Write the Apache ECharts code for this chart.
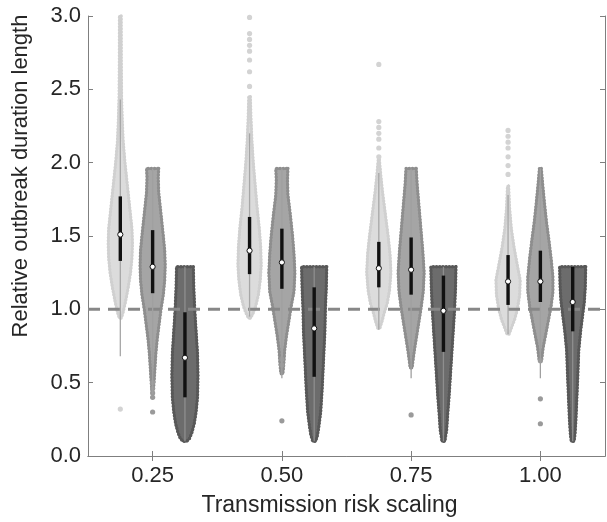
<!DOCTYPE html>
<html><head><meta charset="utf-8">
<script src="https://cdn.jsdelivr.net/npm/echarts@6/dist/echarts.min.js"></script>
<style>html,body{margin:0;padding:0;background:#fff}#c{width:607px;height:522px}</style>
</head><body><div id="c"></div>
<script>
// ---------- data ----------
const categories = ['0.25', '0.50', '0.75', '1.00'];
const yTickLabels = ['0.0', '0.5', '1.0', '1.5', '2.0', '2.5', '3.0'];
const referenceLevel = [1.0];

// violin outlines: [value, density half-width] from top to bottom, one list per category
const lightShape = [
  [[3.00,0.9],[2.70,1],[2.45,1.3],[2.30,2],[2.15,3],[2.00,5],[1.85,7.5],[1.70,10],[1.55,12.5],[1.45,13],[1.35,12.5],[1.25,11],[1.15,8.5],[1.05,5.5],[0.98,3],[0.94,1]],
  [[2.45,0.8],[2.30,1.5],[2.15,2.5],[2.00,4],[1.85,6],[1.70,8],[1.55,10.5],[1.42,12],[1.30,12.5],[1.20,11.5],[1.10,9.5],[1.02,6.5],[0.97,3.5],[0.94,1]],
  [[2.02,0.6],[1.92,2],[1.80,4],[1.65,7],[1.50,10],[1.38,12],[1.25,13],[1.13,11.5],[1.04,9],[0.98,6],[0.92,3.5],[0.87,1]],
  [[1.84,0.6],[1.70,1.5],[1.55,3.5],[1.42,6.5],[1.30,10],[1.20,13],[1.10,12.5],[1.00,10],[0.93,7],[0.88,4],[0.83,1]]
];
const mediumShape = [
  [[1.96,6.5],[1.90,6],[1.80,6.5],[1.65,9],[1.50,11.5],[1.40,13],[1.30,13.5],[1.20,13],[1.10,11.5],[1.00,9],[0.90,7],[0.80,5],[0.70,3.5],[0.60,2.5],[0.50,1.5],[0.45,0.8]],
  [[1.96,6.5],[1.88,6],[1.78,6.5],[1.65,9],[1.50,11.5],[1.38,13],[1.25,14],[1.12,13],[1.02,10],[0.92,7.5],[0.82,5],[0.72,3],[0.62,2],[0.56,1]],
  [[1.96,5.5],[1.85,6.5],[1.70,8.5],[1.55,10.5],[1.40,12.5],[1.25,14],[1.12,13],[1.00,10.5],[0.90,8],[0.80,5.5],[0.72,3.5],[0.65,2],[0.60,1]],
  [[1.96,1],[1.85,2.5],[1.72,4.5],[1.60,6.5],[1.48,9],[1.35,11.5],[1.22,13.5],[1.12,13.5],[1.02,11.5],[0.92,8.5],[0.82,5.5],[0.74,3],[0.66,1.5]]
];
const darkShape = [
  [[1.29,9],[1.15,9.5],[1.00,10.5],[0.85,12],[0.70,13.5],[0.55,14],[0.40,13.5],[0.30,12],[0.22,10],[0.16,7.5],[0.12,5],[0.10,2]],
  [[1.29,13.5],[1.15,13],[1.00,12],[0.85,11.5],[0.65,10],[0.45,8.5],[0.30,7],[0.20,5],[0.14,3.5],[0.10,1.5]],
  [[1.29,13.5],[1.15,13],[1.00,12],[0.85,10.5],[0.70,9],[0.55,7.5],[0.40,6],[0.28,4.5],[0.18,3.5],[0.10,1.5]],
  [[1.29,14],[1.15,13.5],[1.05,12.5],[0.95,10.5],[0.85,8.5],[0.72,6.5],[0.55,5.5],[0.40,4.5],[0.25,3.5],[0.15,2.5],[0.10,1.5]]
];

// box statistics: [whisker low, q1, median, q3, whisker high]
const lightStats = [[0.68,1.33,1.51,1.77,2.43],[0.95,1.24,1.40,1.63,2.20],[0.86,1.15,1.28,1.46,1.93],[0.83,1.03,1.19,1.37,1.78]];
const mediumStats = [[0.42,1.11,1.29,1.54,1.96],[0.53,1.14,1.32,1.55,1.96],[0.53,1.10,1.27,1.49,1.96],[0.53,1.05,1.19,1.40,1.96]];
const darkStats = [[0.10,0.40,0.67,0.98,1.29],[0.10,0.54,0.87,1.15,1.29],[0.10,0.71,0.99,1.23,1.29],[0.10,0.85,1.05,1.29,1.29]];

// isolated points
const lightOutliers = [[0.32],[2.99,2.88,2.84,2.80,2.76,2.70,2.62,2.52],[2.67,2.28,2.24,2.20,2.16,2.10,2.04],[2.22,2.18,2.14,2.10,2.04,1.98,1.92]];
const mediumOutliers = [[0.30,0.40,0.43,0.46,0.50],[0.24,0.62,0.66],[0.28],[0.22,0.39,0.65]];
const darkOutliers = [[],[],[],[]];

// ---------- chart ----------
const groups = [
  {shape: lightShape, stats: lightStats, outliers: lightOutliers, offset: -0.25, fill: '#dcdcdc', edge: '#d0d0d0', whisker: '#a6a6a6', dot: '#d3d3d3'},
  {shape: mediumShape, stats: mediumStats, outliers: mediumOutliers, offset: 0, fill: '#a5a5a5', edge: '#8e8e8e', whisker: '#a0a0a0', dot: '#9a9a9a'},
  {shape: darkShape, stats: darkStats, outliers: darkOutliers, offset: 0.25, fill: '#6c6c6c', edge: '#585858', whisker: '#8e8e8e', dot: '#5a5a5a'}
];
const BAND_REF = 129.25;
const WIDTH_GAIN = 0.93;

function violinRender(g) {
  return function (params, api) {
    const ci = api.value(0);
    const bw = api.size([1, 0])[0];
    const k = WIDTH_GAIN * bw / BAND_REF;
    const cx = api.coord([ci, 0])[0] + g.offset * bw;
    const shape = g.shape[ci];
    const right = shape.map(p => [cx + p[1] * k, api.coord([ci, p[0]])[1]]);
    const left = shape.slice().reverse().map(p => [cx - p[1] * k, api.coord([ci, p[0]])[1]]);
    const pts = right.concat(left);
    return {
      type: 'group',
      children: [
        {type: 'polygon', shape: {points: pts}, style: {fill: g.fill, stroke: g.edge, lineWidth: 2.2, lineJoin: 'round'}},
        {type: 'polygon', shape: {points: pts}, style: {fill: 'none', stroke: g.edge, lineWidth: 3.4, lineDash: [0, 3.2], lineCap: 'round'}}
      ]
    };
  };
}

function boxRender(g) {
  return function (params, api) {
    const ci = api.value(0);
    const bw = api.size([1, 0])[0];
    const cx = api.coord([ci, 0])[0] + g.offset * bw;
    const s = g.stats[ci];
    const y = v => api.coord([ci, v])[1];
    const children = [];
    g.outliers[ci].forEach(v => {
      children.push({type: 'circle', shape: {cx: cx, cy: y(v), r: 2.6}, style: {fill: g.dot, stroke: null}});
    });
    children.push({type: 'line', shape: {x1: cx, y1: y(s[0]), x2: cx, y2: y(s[4])}, style: {stroke: g.whisker, lineWidth: 1.3}});
    children.push({type: 'line', shape: {x1: cx, y1: y(s[1]), x2: cx, y2: y(s[3])}, style: {stroke: '#111111', lineWidth: 3.4}});
    children.push({type: 'circle', shape: {cx: cx, cy: y(s[2]), r: 2.6}, style: {fill: '#ffffff', stroke: '#111111', lineWidth: 1}});
    return {type: 'group', children: children};
  };
}

const series = [];
groups.forEach((g) => {
  series.push({
    type: 'custom', z: 2, renderItem: violinRender(g),
    encode: {x: 0, y: 1},
    data: categories.map((c, i) => [i, g.stats[i][2]]),
    silent: true
  });
});
series.push({
  type: 'custom', z: 3,
  renderItem: function (params, api) {
    const cs = params.coordSys;
    const yy = api.coord([0, api.value(1)])[1];
    return {type: 'line', shape: {x1: cs.x, y1: yy, x2: cs.x + cs.width, y2: yy},
      style: {stroke: '#878787', lineWidth: 3, lineDash: [12, 8]}};
  },
  encode: {x: 0, y: 1},
  data: referenceLevel.map(v => [0, v]),
  silent: true
});
groups.forEach((g) => {
  series.push({
    type: 'custom', z: 4, renderItem: boxRender(g),
    encode: {x: 0, y: 1},
    data: categories.map((c, i) => [i, g.stats[i][2]]),
    silent: true
  });
});

const axisGray = '#7f7f7f';
const txt = '#262626';
const font = 'Liberation Sans, Arial, sans-serif';
const option = {
  animation: false,
  backgroundColor: '#ffffff',
  grid: {left: 88, top: 16, right: 2, bottom: 61, containLabel: false},
  xAxis: [
    {
      type: 'category', data: categories, boundaryGap: true,
      axisLine: {show: true, lineStyle: {color: axisGray, width: 1}},
      axisTick: {show: true, inside: true, alignWithLabel: true, length: 5, lineStyle: {color: axisGray}},
      axisLabel: {fontSize: 22, color: txt, margin: 9, fontFamily: font},
      splitLine: {show: false},
      name: 'Transmission risk scaling', nameLocation: 'middle', nameGap: 38,
      nameTextStyle: {fontSize: 23, color: txt, fontFamily: font, padding: [0, 34, 0, 0]}
    },
    {
      type: 'category', data: categories, boundaryGap: true, position: 'top',
      axisLine: {show: true, lineStyle: {color: axisGray, width: 1}},
      axisTick: {show: true, inside: true, alignWithLabel: true, length: 5, lineStyle: {color: axisGray}},
      axisLabel: {show: false}, splitLine: {show: false}
    }
  ],
  yAxis: [
    {
      type: 'value', min: 0, max: 3, interval: 0.5,
      axisLine: {show: true, lineStyle: {color: axisGray, width: 1}},
      axisTick: {show: true, inside: true, length: 5, lineStyle: {color: axisGray}},
      axisLabel: {fontSize: 22, color: txt, margin: 7, fontFamily: font,
        formatter: v => yTickLabels[Math.round(v / 0.5)]},
      splitLine: {show: false},
      name: 'Relative outbreak duration length', nameLocation: 'middle', nameGap: 56,
      nameTextStyle: {fontSize: 22, color: txt, fontFamily: font, padding: [0, 0, 0, 120]}
    },
    {
      type: 'value', min: 0, max: 3, interval: 0.5, position: 'right',
      axisLine: {show: true, lineStyle: {color: axisGray, width: 1}},
      axisTick: {show: true, inside: true, length: 5, lineStyle: {color: axisGray}},
      axisLabel: {show: false}, splitLine: {show: false}
    }
  ],
  series: series
};
const chart = echarts.init(document.getElementById('c'), null, {renderer: 'canvas'});
chart.setOption(option);
</script>
</body></html>
